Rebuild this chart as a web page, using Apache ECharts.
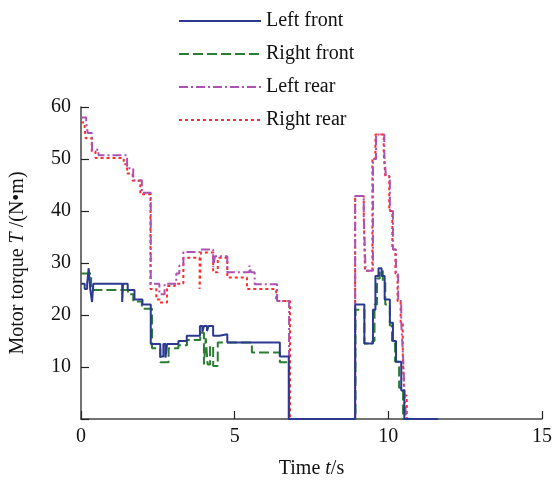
<!DOCTYPE html>
<html>
<head>
<meta charset="utf-8">
<script src="https://cdn.jsdelivr.net/npm/echarts@6/dist/echarts.min.js"></script>
<style>
  html, body { margin: 0; padding: 0; background: #fff; }
  #chart { width: 555px; height: 484px; }
</style>
</head>
<body>
<div id="chart"></div>
<script>
// Motor torque of the four in-wheel motors over time, [time s, torque N·m], held until next sample
const leftFront = [
  [0, 26], [0.12, 25], [0.2, 26], [0.25, 29], [0.3, 25], [0.36, 22.5], [0.4, 26],
  [1.34, 22.5], [1.37, 26], [1.52, 24.8], [1.74, 23], [2.0, 22],
  [2.27, 14.4], [2.58, 12], [2.68, 14.4], [2.75, 11.8], [2.8, 14.4],
  [3.17, 15], [3.44, 16], [3.87, 17.9], [3.95, 16.8], [4.0, 17.9], [4.1, 16.9], [4.15, 17.9],
  [4.3, 16], [4.5, 16.3], [4.76, 14.7], [6.47, 12], [6.76, 0],
  [8.92, 22], [9.22, 14.5], [9.5, 21], [9.58, 27.5], [9.68, 29], [9.78, 27.5],
  [9.88, 23], [10.05, 18.5], [10.15, 15], [10.25, 11], [10.42, 5.5], [10.52, 0], [11.62, 0]
];
const rightFront = [
  [0, 28], [0.33, 24.8], [1.53, 24], [1.7, 22.6], [1.98, 21.2],
  [2.31, 13.6], [2.58, 10.9], [2.85, 13.6], [3.17, 14.2], [3.45, 15.2], [3.88, 16.6],
  [4.0, 10.5], [4.06, 15.5], [4.12, 10.5], [4.2, 14], [4.3, 10.2], [4.45, 14.7],
  [5.56, 12.8], [6.47, 10.9], [6.77, 0],
  [8.93, 21], [9.22, 14.5], [9.48, 15], [9.55, 22], [9.63, 27], [9.72, 28.5],
  [9.82, 26.5], [9.9, 22], [10.05, 18], [10.12, 14.5], [10.22, 11], [10.35, 6], [10.48, 0], [11.62, 0]
];
const leftRear = [
  [0, 58], [0.17, 57], [0.22, 55], [0.36, 51.8], [0.57, 50.7],
  [1.5, 48.2], [1.7, 45.9], [1.98, 43.5], [2.27, 26], [2.55, 24], [2.72, 26],
  [3.1, 28], [3.2, 29.5], [3.33, 32.1], [3.86, 32.6], [4.3, 29.2], [4.36, 31.3],
  [4.76, 28.2], [5.48, 29.5], [5.53, 28.2], [5.65, 25.9], [6.38, 22.7], [6.77, 0],
  [8.92, 42.9], [9.2, 39], [9.26, 28.5], [9.5, 50], [9.6, 54.7], [9.87, 51],
  [9.92, 46.7], [10.05, 40], [10.15, 32.6], [10.25, 28], [10.32, 22.7],
  [10.42, 18.5], [10.48, 12], [10.53, 4.5], [10.58, 0], [11.62, 0]
];
const rightRear = [
  [0, 57], [0.12, 56], [0.15, 54], [0.35, 51.5], [0.47, 50.2],
  [1.39, 49], [1.5, 47.2], [1.68, 45.8], [1.93, 43.2], [2.26, 25],
  [2.45, 23], [2.56, 22.4], [2.8, 25.6], [3.05, 26], [3.33, 31],
  [3.86, 25], [3.9, 32], [4.3, 28.2], [4.45, 31], [4.76, 27.2],
  [5.4, 25], [6.35, 22.7], [6.8, 0],
  [8.92, 42.9], [9.2, 39], [9.24, 28.5], [9.48, 50], [9.58, 54.7], [9.85, 51],
  [9.9, 46.7], [10.03, 40], [10.13, 32.6], [10.23, 28], [10.3, 22.7],
  [10.4, 18.5], [10.47, 12], [10.52, 4.5], [10.6, 0], [11.62, 0]
];

const seriesNames = ['Left front', 'Right front', 'Left rear', 'Right rear'];
const seriesData = [leftFront, rightFront, leftRear, rightRear];
const seriesColors = ['#2b3a8f', '#2a7d34', '#ad52b5', '#ff2a2a'];
const seriesDash = ['solid', [10, 4], [9, 3, 2, 3], [3, 3]];

const xTicks = { min: 0, max: 15, interval: 5 };
const yTicks = { min: 0, max: 60, interval: 10 };

const serif = '"Liberation Serif", "DejaVu Serif", serif';
const axisColor = '#444';
const fontSize = 20;

const chart = echarts.init(document.getElementById('chart'), null, { renderer: 'canvas' });

chart.setOption({
  animation: false,
  backgroundColor: '#fff',
  grid: { left: 77, right: 8, top: 107, bottom: 64, containLabel: false },
  legend: {
    orient: 'vertical',
    left: 173,
    top: 6,
    itemWidth: 82,
    itemHeight: 20,
    itemGap: 13,
    itemStyle: { opacity: 0 },
    textStyle: { fontFamily: serif, fontSize: fontSize, color: '#111', lineHeight: 20 },
    data: seriesNames
  },
  xAxis: {
    type: 'value',
    min: xTicks.min, max: xTicks.max, interval: xTicks.interval,
    name: '{n|Time }{i|t}{n|/s}',
    nameLocation: 'middle',
    nameGap: 40,
    nameTextStyle: {
      rich: {
        n: { fontFamily: serif, fontSize: fontSize, color: '#111' },
        i: { fontFamily: serif, fontSize: fontSize, color: '#111', fontStyle: 'italic' }
      }
    },
    axisLine: { show: true, lineStyle: { color: axisColor, width: 1.5 } },
    axisTick: { show: true, inside: true, length: 8, lineStyle: { color: '#222', width: 1.2 } },
    axisLabel: { fontFamily: serif, fontSize: fontSize, color: '#111', margin: 8 },
    splitLine: { show: false }
  },
  yAxis: {
    type: 'value',
    min: yTicks.min, max: yTicks.max, interval: yTicks.interval,
    name: '{n|Motor torque }{i|T}{n| /(N•m)}',
    nameLocation: 'middle',
    nameGap: 53,
    nameTextStyle: {
      rich: {
        n: { fontFamily: serif, fontSize: fontSize, color: '#111' },
        i: { fontFamily: serif, fontSize: fontSize, color: '#111', fontStyle: 'italic' }
      }
    },
    axisLine: { show: true, lineStyle: { color: axisColor, width: 1.5 } },
    axisTick: { show: true, inside: true, length: 8, lineStyle: { color: '#222', width: 1.2 } },
    axisLabel: {
      fontFamily: serif, fontSize: fontSize, color: '#111', margin: 10,
      formatter: v => (v === 0 ? '' : String(v))
    },
    splitLine: { show: false }
  },
  series: seriesNames.map((name, i) => ({
    name,
    type: 'line',
    step: 'end',
    data: seriesData[i],
    symbol: 'none',
    color: seriesColors[i],
    lineStyle: { color: seriesColors[i], width: 2, type: seriesDash[i] },
    z: 10 - i
  }))
});
</script>
</body>
</html>
